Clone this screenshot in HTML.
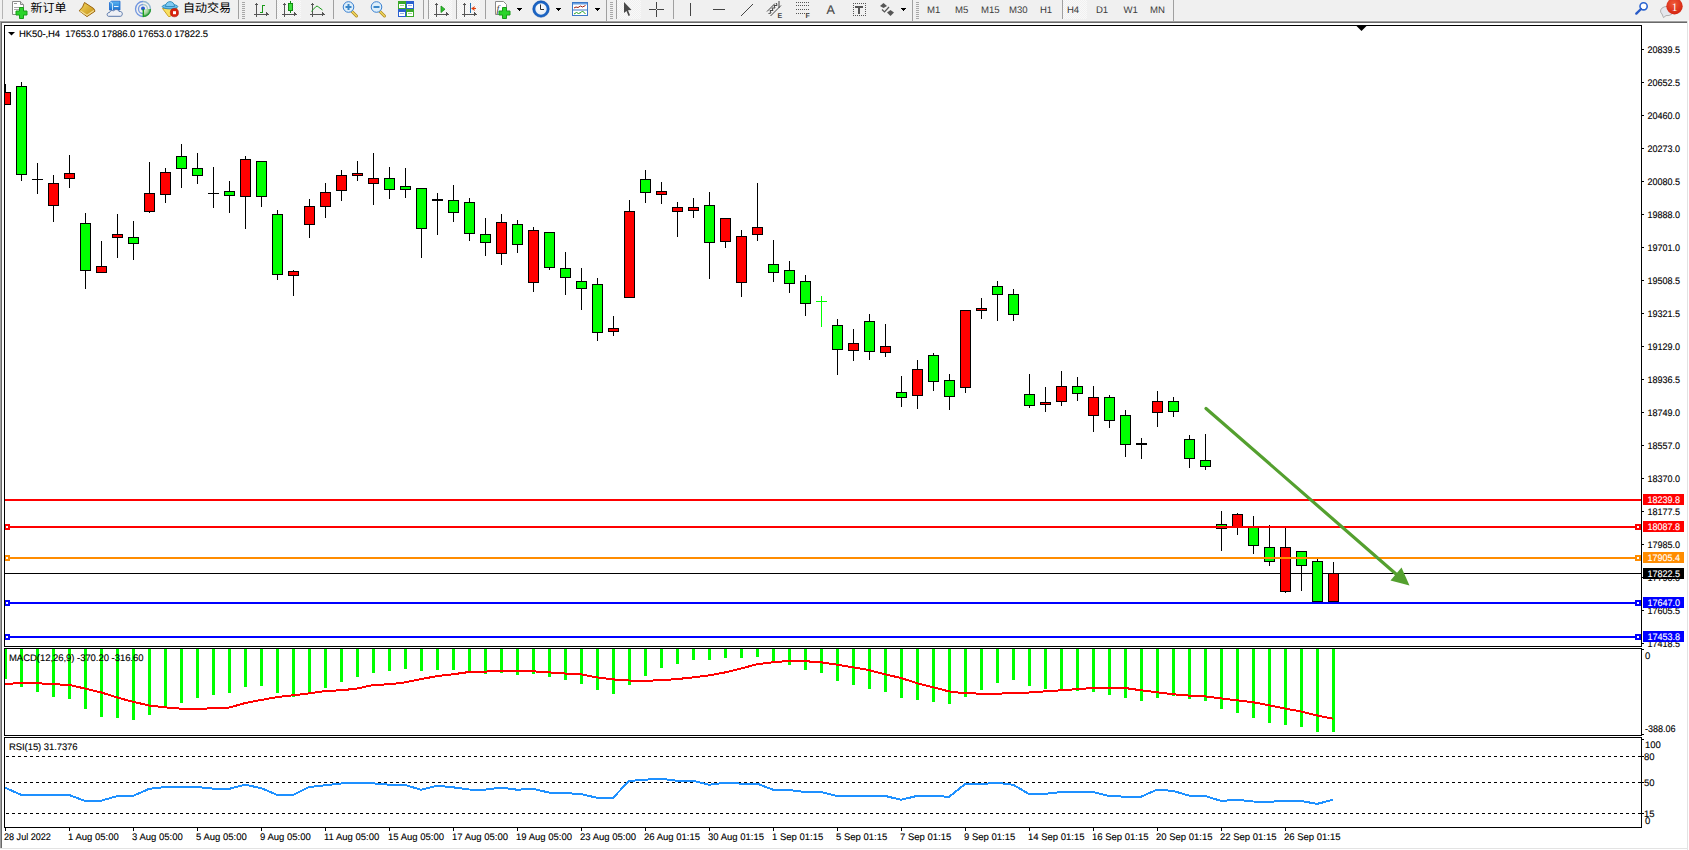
<!DOCTYPE html>
<html><head><meta charset="utf-8"><title>MT4 HK50 H4</title>
<style>
html,body{margin:0;padding:0;background:#fff;width:1689px;height:850px;overflow:hidden}
svg{display:block}
text{font-family:"Liberation Sans", "Noto Sans CJK SC", sans-serif;text-rendering:geometricPrecision;stroke-width:0.12px;paint-order:stroke}
</style></head><body>
<svg width="1689" height="850" viewBox="0 0 1689 850" shape-rendering="crispEdges">
<rect x="0" y="0" width="1689" height="21" fill="#f0f0f0"/>
<rect x="0" y="20" width="1689" height="1" fill="#f5f5f5"/>
<rect x="0" y="21" width="1687" height="1" fill="#a0a0a0"/>
<rect x="0" y="22" width="1687" height="1" fill="#696969"/>
<rect x="0" y="21" width="1" height="828" fill="#a0a0a0"/>
<rect x="1" y="22" width="1" height="827" fill="#696969"/>
<rect x="1687" y="21" width="1" height="829" fill="#e3e3e3"/>
<rect x="0" y="848" width="1688" height="1" fill="#e3e3e3"/>
<g id="chart">
<defs><clipPath id="cm"><rect x="5" y="26" width="1636" height="620"/></clipPath><clipPath id="cmacd"><rect x="5" y="649" width="1636" height="86"/></clipPath><clipPath id="crsi"><rect x="5" y="738" width="1636" height="89"/></clipPath></defs>
<g clip-path="url(#cm)">
<rect x="5" y="573" width="1636" height="1" fill="#000"/>
<rect x="5" y="84" width="1" height="21" fill="#000"/>
<rect x="0" y="92" width="11" height="13" fill="#000"/>
<rect x="1" y="93" width="9" height="11" fill="#ff0000"/>
<rect x="21" y="82" width="1" height="99" fill="#000"/>
<rect x="16" y="86" width="11" height="89" fill="#000"/>
<rect x="17" y="87" width="9" height="87" fill="#00ff00"/>
<rect x="37" y="163" width="1" height="31" fill="#000"/>
<rect x="32" y="179" width="11" height="1" fill="#000"/>
<rect x="53" y="175" width="1" height="47" fill="#000"/>
<rect x="48" y="183" width="11" height="23" fill="#000"/>
<rect x="49" y="184" width="9" height="21" fill="#ff0000"/>
<rect x="69" y="155" width="1" height="33" fill="#000"/>
<rect x="64" y="173" width="11" height="6" fill="#000"/>
<rect x="65" y="174" width="9" height="4" fill="#ff0000"/>
<rect x="85" y="213" width="1" height="76" fill="#000"/>
<rect x="80" y="223" width="11" height="48" fill="#000"/>
<rect x="81" y="224" width="9" height="46" fill="#00ff00"/>
<rect x="101" y="241" width="1" height="32" fill="#000"/>
<rect x="96" y="266" width="11" height="7" fill="#000"/>
<rect x="97" y="267" width="9" height="5" fill="#ff0000"/>
<rect x="117" y="214" width="1" height="44" fill="#000"/>
<rect x="112" y="234" width="11" height="4" fill="#000"/>
<rect x="113" y="235" width="9" height="2" fill="#ff0000"/>
<rect x="133" y="221" width="1" height="39" fill="#000"/>
<rect x="128" y="237" width="11" height="7" fill="#000"/>
<rect x="129" y="238" width="9" height="5" fill="#00ff00"/>
<rect x="149" y="162" width="1" height="51" fill="#000"/>
<rect x="144" y="193" width="11" height="19" fill="#000"/>
<rect x="145" y="194" width="9" height="17" fill="#ff0000"/>
<rect x="165" y="168" width="1" height="35" fill="#000"/>
<rect x="160" y="172" width="11" height="23" fill="#000"/>
<rect x="161" y="173" width="9" height="21" fill="#ff0000"/>
<rect x="181" y="144" width="1" height="44" fill="#000"/>
<rect x="176" y="156" width="11" height="13" fill="#000"/>
<rect x="177" y="157" width="9" height="11" fill="#00ff00"/>
<rect x="197" y="153" width="1" height="31" fill="#000"/>
<rect x="192" y="168" width="11" height="8" fill="#000"/>
<rect x="193" y="169" width="9" height="6" fill="#00ff00"/>
<rect x="213" y="167" width="1" height="41" fill="#000"/>
<rect x="208" y="193" width="11" height="1" fill="#000"/>
<rect x="229" y="181" width="1" height="32" fill="#000"/>
<rect x="224" y="191" width="11" height="5" fill="#000"/>
<rect x="225" y="192" width="9" height="3" fill="#00ff00"/>
<rect x="245" y="156" width="1" height="73" fill="#000"/>
<rect x="240" y="159" width="11" height="38" fill="#000"/>
<rect x="241" y="160" width="9" height="36" fill="#ff0000"/>
<rect x="261" y="161" width="1" height="46" fill="#000"/>
<rect x="256" y="161" width="11" height="36" fill="#000"/>
<rect x="257" y="162" width="9" height="34" fill="#00ff00"/>
<rect x="277" y="210" width="1" height="70" fill="#000"/>
<rect x="272" y="214" width="11" height="61" fill="#000"/>
<rect x="273" y="215" width="9" height="59" fill="#00ff00"/>
<rect x="293" y="270" width="1" height="26" fill="#000"/>
<rect x="288" y="271" width="11" height="5" fill="#000"/>
<rect x="289" y="272" width="9" height="3" fill="#ff0000"/>
<rect x="309" y="199" width="1" height="39" fill="#000"/>
<rect x="304" y="206" width="11" height="19" fill="#000"/>
<rect x="305" y="207" width="9" height="17" fill="#ff0000"/>
<rect x="325" y="183" width="1" height="35" fill="#000"/>
<rect x="320" y="192" width="11" height="15" fill="#000"/>
<rect x="321" y="193" width="9" height="13" fill="#ff0000"/>
<rect x="341" y="170" width="1" height="31" fill="#000"/>
<rect x="336" y="175" width="11" height="16" fill="#000"/>
<rect x="337" y="176" width="9" height="14" fill="#ff0000"/>
<rect x="357" y="161" width="1" height="20" fill="#000"/>
<rect x="352" y="173" width="11" height="3" fill="#000"/>
<rect x="353" y="174" width="9" height="1" fill="#ff0000"/>
<rect x="373" y="153" width="1" height="52" fill="#000"/>
<rect x="368" y="178" width="11" height="6" fill="#000"/>
<rect x="369" y="179" width="9" height="4" fill="#ff0000"/>
<rect x="389" y="167" width="1" height="32" fill="#000"/>
<rect x="384" y="178" width="11" height="12" fill="#000"/>
<rect x="385" y="179" width="9" height="10" fill="#00ff00"/>
<rect x="405" y="168" width="1" height="30" fill="#000"/>
<rect x="400" y="186" width="11" height="4" fill="#000"/>
<rect x="401" y="187" width="9" height="2" fill="#00ff00"/>
<rect x="421" y="188" width="1" height="70" fill="#000"/>
<rect x="416" y="188" width="11" height="41" fill="#000"/>
<rect x="417" y="189" width="9" height="39" fill="#00ff00"/>
<rect x="437" y="193" width="1" height="42" fill="#000"/>
<rect x="432" y="199" width="11" height="2" fill="#000"/>
<rect x="453" y="185" width="1" height="37" fill="#000"/>
<rect x="448" y="200" width="11" height="13" fill="#000"/>
<rect x="449" y="201" width="9" height="11" fill="#00ff00"/>
<rect x="469" y="198" width="1" height="43" fill="#000"/>
<rect x="464" y="202" width="11" height="32" fill="#000"/>
<rect x="465" y="203" width="9" height="30" fill="#00ff00"/>
<rect x="485" y="218" width="1" height="38" fill="#000"/>
<rect x="480" y="234" width="11" height="9" fill="#000"/>
<rect x="481" y="235" width="9" height="7" fill="#00ff00"/>
<rect x="501" y="214" width="1" height="51" fill="#000"/>
<rect x="496" y="222" width="11" height="32" fill="#000"/>
<rect x="497" y="223" width="9" height="30" fill="#ff0000"/>
<rect x="517" y="220" width="1" height="33" fill="#000"/>
<rect x="512" y="224" width="11" height="21" fill="#000"/>
<rect x="513" y="225" width="9" height="19" fill="#00ff00"/>
<rect x="533" y="227" width="1" height="65" fill="#000"/>
<rect x="528" y="230" width="11" height="53" fill="#000"/>
<rect x="529" y="231" width="9" height="51" fill="#ff0000"/>
<rect x="549" y="232" width="1" height="38" fill="#000"/>
<rect x="544" y="232" width="11" height="36" fill="#000"/>
<rect x="545" y="233" width="9" height="34" fill="#00ff00"/>
<rect x="565" y="252" width="1" height="43" fill="#000"/>
<rect x="560" y="268" width="11" height="10" fill="#000"/>
<rect x="561" y="269" width="9" height="8" fill="#00ff00"/>
<rect x="581" y="268" width="1" height="42" fill="#000"/>
<rect x="576" y="281" width="11" height="8" fill="#000"/>
<rect x="577" y="282" width="9" height="6" fill="#00ff00"/>
<rect x="597" y="278" width="1" height="63" fill="#000"/>
<rect x="592" y="284" width="11" height="49" fill="#000"/>
<rect x="593" y="285" width="9" height="47" fill="#00ff00"/>
<rect x="613" y="316" width="1" height="20" fill="#000"/>
<rect x="608" y="328" width="11" height="4" fill="#000"/>
<rect x="609" y="329" width="9" height="2" fill="#ff0000"/>
<rect x="629" y="200" width="1" height="98" fill="#000"/>
<rect x="624" y="211" width="11" height="87" fill="#000"/>
<rect x="625" y="212" width="9" height="85" fill="#ff0000"/>
<rect x="645" y="170" width="1" height="33" fill="#000"/>
<rect x="640" y="179" width="11" height="14" fill="#000"/>
<rect x="641" y="180" width="9" height="12" fill="#00ff00"/>
<rect x="661" y="182" width="1" height="22" fill="#000"/>
<rect x="656" y="191" width="11" height="4" fill="#000"/>
<rect x="657" y="192" width="9" height="2" fill="#ff0000"/>
<rect x="677" y="202" width="1" height="35" fill="#000"/>
<rect x="672" y="207" width="11" height="5" fill="#000"/>
<rect x="673" y="208" width="9" height="3" fill="#ff0000"/>
<rect x="693" y="198" width="1" height="20" fill="#000"/>
<rect x="688" y="207" width="11" height="4" fill="#000"/>
<rect x="689" y="208" width="9" height="2" fill="#ff0000"/>
<rect x="709" y="192" width="1" height="87" fill="#000"/>
<rect x="704" y="205" width="11" height="38" fill="#000"/>
<rect x="705" y="206" width="9" height="36" fill="#00ff00"/>
<rect x="725" y="218" width="1" height="30" fill="#000"/>
<rect x="720" y="218" width="11" height="24" fill="#000"/>
<rect x="721" y="219" width="9" height="22" fill="#ff0000"/>
<rect x="741" y="230" width="1" height="67" fill="#000"/>
<rect x="736" y="236" width="11" height="47" fill="#000"/>
<rect x="737" y="237" width="9" height="45" fill="#ff0000"/>
<rect x="757" y="183" width="1" height="58" fill="#000"/>
<rect x="752" y="227" width="11" height="8" fill="#000"/>
<rect x="753" y="228" width="9" height="6" fill="#ff0000"/>
<rect x="773" y="240" width="1" height="42" fill="#000"/>
<rect x="768" y="264" width="11" height="9" fill="#000"/>
<rect x="769" y="265" width="9" height="7" fill="#00ff00"/>
<rect x="789" y="261" width="1" height="32" fill="#000"/>
<rect x="784" y="270" width="11" height="14" fill="#000"/>
<rect x="785" y="271" width="9" height="12" fill="#00ff00"/>
<rect x="805" y="275" width="1" height="41" fill="#000"/>
<rect x="800" y="281" width="11" height="23" fill="#000"/>
<rect x="801" y="282" width="9" height="21" fill="#00ff00"/>
<rect x="821" y="296" width="1" height="31" fill="#00ff00"/>
<rect x="816" y="301" width="11" height="1" fill="#00ff00"/>
<rect x="837" y="319" width="1" height="56" fill="#000"/>
<rect x="832" y="325" width="11" height="25" fill="#000"/>
<rect x="833" y="326" width="9" height="23" fill="#00ff00"/>
<rect x="853" y="329" width="1" height="32" fill="#000"/>
<rect x="848" y="343" width="11" height="8" fill="#000"/>
<rect x="849" y="344" width="9" height="6" fill="#ff0000"/>
<rect x="869" y="314" width="1" height="46" fill="#000"/>
<rect x="864" y="321" width="11" height="31" fill="#000"/>
<rect x="865" y="322" width="9" height="29" fill="#00ff00"/>
<rect x="885" y="324" width="1" height="33" fill="#000"/>
<rect x="880" y="346" width="11" height="7" fill="#000"/>
<rect x="881" y="347" width="9" height="5" fill="#ff0000"/>
<rect x="901" y="376" width="1" height="31" fill="#000"/>
<rect x="896" y="392" width="11" height="6" fill="#000"/>
<rect x="897" y="393" width="9" height="4" fill="#00ff00"/>
<rect x="917" y="360" width="1" height="49" fill="#000"/>
<rect x="912" y="369" width="11" height="27" fill="#000"/>
<rect x="913" y="370" width="9" height="25" fill="#ff0000"/>
<rect x="933" y="353" width="1" height="38" fill="#000"/>
<rect x="928" y="355" width="11" height="27" fill="#000"/>
<rect x="929" y="356" width="9" height="25" fill="#00ff00"/>
<rect x="949" y="374" width="1" height="36" fill="#000"/>
<rect x="944" y="380" width="11" height="17" fill="#000"/>
<rect x="945" y="381" width="9" height="15" fill="#00ff00"/>
<rect x="965" y="310" width="1" height="83" fill="#000"/>
<rect x="960" y="310" width="11" height="78" fill="#000"/>
<rect x="961" y="311" width="9" height="76" fill="#ff0000"/>
<rect x="981" y="298" width="1" height="21" fill="#000"/>
<rect x="976" y="308" width="11" height="3" fill="#000"/>
<rect x="977" y="309" width="9" height="1" fill="#ff0000"/>
<rect x="997" y="281" width="1" height="40" fill="#000"/>
<rect x="992" y="286" width="11" height="9" fill="#000"/>
<rect x="993" y="287" width="9" height="7" fill="#00ff00"/>
<rect x="1013" y="289" width="1" height="32" fill="#000"/>
<rect x="1008" y="294" width="11" height="21" fill="#000"/>
<rect x="1009" y="295" width="9" height="19" fill="#00ff00"/>
<rect x="1029" y="374" width="1" height="34" fill="#000"/>
<rect x="1024" y="394" width="11" height="12" fill="#000"/>
<rect x="1025" y="395" width="9" height="10" fill="#00ff00"/>
<rect x="1045" y="387" width="1" height="25" fill="#000"/>
<rect x="1040" y="402" width="11" height="3" fill="#000"/>
<rect x="1041" y="403" width="9" height="1" fill="#ff0000"/>
<rect x="1061" y="371" width="1" height="35" fill="#000"/>
<rect x="1056" y="386" width="11" height="16" fill="#000"/>
<rect x="1057" y="387" width="9" height="14" fill="#ff0000"/>
<rect x="1077" y="377" width="1" height="24" fill="#000"/>
<rect x="1072" y="386" width="11" height="8" fill="#000"/>
<rect x="1073" y="387" width="9" height="6" fill="#00ff00"/>
<rect x="1093" y="386" width="1" height="46" fill="#000"/>
<rect x="1088" y="397" width="11" height="19" fill="#000"/>
<rect x="1089" y="398" width="9" height="17" fill="#ff0000"/>
<rect x="1109" y="395" width="1" height="33" fill="#000"/>
<rect x="1104" y="397" width="11" height="24" fill="#000"/>
<rect x="1105" y="398" width="9" height="22" fill="#00ff00"/>
<rect x="1125" y="410" width="1" height="47" fill="#000"/>
<rect x="1120" y="415" width="11" height="30" fill="#000"/>
<rect x="1121" y="416" width="9" height="28" fill="#00ff00"/>
<rect x="1141" y="438" width="1" height="21" fill="#000"/>
<rect x="1136" y="443" width="11" height="2" fill="#000"/>
<rect x="1157" y="391" width="1" height="36" fill="#000"/>
<rect x="1152" y="401" width="11" height="12" fill="#000"/>
<rect x="1153" y="402" width="9" height="10" fill="#ff0000"/>
<rect x="1173" y="397" width="1" height="20" fill="#000"/>
<rect x="1168" y="401" width="11" height="11" fill="#000"/>
<rect x="1169" y="402" width="9" height="9" fill="#00ff00"/>
<rect x="1189" y="435" width="1" height="33" fill="#000"/>
<rect x="1184" y="439" width="11" height="20" fill="#000"/>
<rect x="1185" y="440" width="9" height="18" fill="#00ff00"/>
<rect x="1205" y="434" width="1" height="36" fill="#000"/>
<rect x="1200" y="460" width="11" height="7" fill="#000"/>
<rect x="1201" y="461" width="9" height="5" fill="#00ff00"/>
<rect x="1221" y="511" width="1" height="40" fill="#000"/>
<rect x="1216" y="524" width="11" height="5" fill="#000"/>
<rect x="1217" y="525" width="9" height="3" fill="#00ff00"/>
<rect x="1237" y="513" width="1" height="22" fill="#000"/>
<rect x="1232" y="514" width="11" height="13" fill="#000"/>
<rect x="1233" y="515" width="9" height="11" fill="#ff0000"/>
<rect x="1253" y="516" width="1" height="38" fill="#000"/>
<rect x="1248" y="527" width="11" height="19" fill="#000"/>
<rect x="1249" y="528" width="9" height="17" fill="#00ff00"/>
<rect x="1269" y="525" width="1" height="41" fill="#000"/>
<rect x="1264" y="547" width="11" height="15" fill="#000"/>
<rect x="1265" y="548" width="9" height="13" fill="#00ff00"/>
<rect x="1285" y="528" width="1" height="65" fill="#000"/>
<rect x="1280" y="547" width="11" height="45" fill="#000"/>
<rect x="1281" y="548" width="9" height="43" fill="#ff0000"/>
<rect x="1301" y="551" width="1" height="40" fill="#000"/>
<rect x="1296" y="551" width="11" height="15" fill="#000"/>
<rect x="1297" y="552" width="9" height="13" fill="#00ff00"/>
<rect x="1317" y="558" width="1" height="44" fill="#000"/>
<rect x="1312" y="561" width="11" height="41" fill="#000"/>
<rect x="1313" y="562" width="9" height="39" fill="#00ff00"/>
<rect x="1333" y="562" width="1" height="40" fill="#000"/>
<rect x="1328" y="573" width="11" height="29" fill="#000"/>
<rect x="1329" y="574" width="9" height="27" fill="#ff0000"/>
<rect x="5" y="499" width="1636" height="2" fill="#ff0000"/>
<rect x="5" y="526" width="1636" height="2" fill="#ff0000"/>
<rect x="4" y="524" width="6" height="6" fill="#ff0000"/>
<rect x="6" y="526" width="2" height="2" fill="#fff"/>
<rect x="1635" y="524" width="6" height="6" fill="#ff0000"/>
<rect x="1637" y="526" width="2" height="2" fill="#fff"/>
<rect x="5" y="557" width="1636" height="2" fill="#ff8c00"/>
<rect x="4" y="555" width="6" height="6" fill="#ff8c00"/>
<rect x="6" y="557" width="2" height="2" fill="#fff"/>
<rect x="1635" y="555" width="6" height="6" fill="#ff8c00"/>
<rect x="1637" y="557" width="2" height="2" fill="#fff"/>
<rect x="5" y="602" width="1636" height="2" fill="#0000ff"/>
<rect x="4" y="600" width="6" height="6" fill="#0000ff"/>
<rect x="6" y="602" width="2" height="2" fill="#fff"/>
<rect x="1635" y="600" width="6" height="6" fill="#0000ff"/>
<rect x="1637" y="602" width="2" height="2" fill="#fff"/>
<rect x="5" y="636" width="1636" height="2" fill="#0000ff"/>
<rect x="4" y="634" width="6" height="6" fill="#0000ff"/>
<rect x="6" y="636" width="2" height="2" fill="#fff"/>
<rect x="1635" y="634" width="6" height="6" fill="#0000ff"/>
<rect x="1637" y="636" width="2" height="2" fill="#fff"/>
</g>
<g shape-rendering="geometricPrecision">
<line x1="1206" y1="408.5" x2="1396" y2="574" stroke="#54a02f" stroke-width="3.2" stroke-linecap="round"/>
<polygon points="1409.5,585.5 1390.5,580.5 1401.5,567.5" fill="#54a02f"/>
</g>
<rect x="4" y="25" width="1638" height="1" fill="#000"/>
<rect x="4" y="646" width="1638" height="1" fill="#000"/>
<rect x="4" y="25" width="1" height="622" fill="#000"/>
<rect x="1641" y="25" width="1" height="622" fill="#000"/>
<rect x="4" y="648" width="1638" height="1" fill="#000"/>
<rect x="4" y="735" width="1638" height="1" fill="#000"/>
<rect x="4" y="648" width="1" height="88" fill="#000"/>
<rect x="1641" y="648" width="1" height="88" fill="#000"/>
<rect x="4" y="737" width="1638" height="1" fill="#000"/>
<rect x="4" y="827" width="1638" height="1" fill="#000"/>
<rect x="4" y="737" width="1" height="91" fill="#000"/>
<rect x="1641" y="737" width="1" height="91" fill="#000"/>
<polygon points="1356.5,26 1366.5,26 1361.5,31" fill="#000" shape-rendering="geometricPrecision"/>
<polygon points="8,32 15,32 11.5,35.5" fill="#000" shape-rendering="geometricPrecision"/>
<text x="19" y="37" fill="#000" stroke="#000" font-size="9.5" xml:space="preserve" textLength="189" lengthAdjust="spacing">HK50-,H4  17653.0 17886.0 17653.0 17822.5</text>
<rect x="1642" y="49" width="2" height="1" fill="#000"/>
<text transform="translate(1647.5 53) scale(0.95 1)" fill="#000" stroke="#000" font-size="9.5">20839.5</text>
<rect x="1642" y="82" width="2" height="1" fill="#000"/>
<text transform="translate(1647.5 86) scale(0.95 1)" fill="#000" stroke="#000" font-size="9.5">20652.5</text>
<rect x="1642" y="115" width="2" height="1" fill="#000"/>
<text transform="translate(1647.5 119) scale(0.95 1)" fill="#000" stroke="#000" font-size="9.5">20460.0</text>
<rect x="1642" y="148" width="2" height="1" fill="#000"/>
<text transform="translate(1647.5 152) scale(0.95 1)" fill="#000" stroke="#000" font-size="9.5">20273.0</text>
<rect x="1642" y="181" width="2" height="1" fill="#000"/>
<text transform="translate(1647.5 185) scale(0.95 1)" fill="#000" stroke="#000" font-size="9.5">20080.5</text>
<rect x="1642" y="214" width="2" height="1" fill="#000"/>
<text transform="translate(1647.5 218) scale(0.95 1)" fill="#000" stroke="#000" font-size="9.5">19888.0</text>
<rect x="1642" y="247" width="2" height="1" fill="#000"/>
<text transform="translate(1647.5 251) scale(0.95 1)" fill="#000" stroke="#000" font-size="9.5">19701.0</text>
<rect x="1642" y="280" width="2" height="1" fill="#000"/>
<text transform="translate(1647.5 284) scale(0.95 1)" fill="#000" stroke="#000" font-size="9.5">19508.5</text>
<rect x="1642" y="313" width="2" height="1" fill="#000"/>
<text transform="translate(1647.5 317) scale(0.95 1)" fill="#000" stroke="#000" font-size="9.5">19321.5</text>
<rect x="1642" y="346" width="2" height="1" fill="#000"/>
<text transform="translate(1647.5 350) scale(0.95 1)" fill="#000" stroke="#000" font-size="9.5">19129.0</text>
<rect x="1642" y="379" width="2" height="1" fill="#000"/>
<text transform="translate(1647.5 383) scale(0.95 1)" fill="#000" stroke="#000" font-size="9.5">18936.5</text>
<rect x="1642" y="412" width="2" height="1" fill="#000"/>
<text transform="translate(1647.5 416) scale(0.95 1)" fill="#000" stroke="#000" font-size="9.5">18749.0</text>
<rect x="1642" y="445" width="2" height="1" fill="#000"/>
<text transform="translate(1647.5 449) scale(0.95 1)" fill="#000" stroke="#000" font-size="9.5">18557.0</text>
<rect x="1642" y="478" width="2" height="1" fill="#000"/>
<text transform="translate(1647.5 482) scale(0.95 1)" fill="#000" stroke="#000" font-size="9.5">18370.0</text>
<rect x="1642" y="511" width="2" height="1" fill="#000"/>
<text transform="translate(1647.5 515) scale(0.95 1)" fill="#000" stroke="#000" font-size="9.5">18177.5</text>
<rect x="1642" y="544" width="2" height="1" fill="#000"/>
<text transform="translate(1647.5 548) scale(0.95 1)" fill="#000" stroke="#000" font-size="9.5">17985.0</text>
<rect x="1642" y="577" width="2" height="1" fill="#000"/>
<text transform="translate(1647.5 581) scale(0.95 1)" fill="#000" stroke="#000" font-size="9.5">17790.0</text>
<rect x="1642" y="610" width="2" height="1" fill="#000"/>
<text transform="translate(1647.5 614) scale(0.95 1)" fill="#000" stroke="#000" font-size="9.5">17605.5</text>
<rect x="1642" y="643" width="2" height="1" fill="#000"/>
<text transform="translate(1647.5 647) scale(0.95 1)" fill="#000" stroke="#000" font-size="9.5">17418.5</text>
<rect x="1643" y="494" width="41" height="11" fill="#ff0000"/>
<text transform="translate(1647.5 503) scale(0.95 1)" fill="#fff" stroke="#fff" font-size="9.5">18239.8</text>
<rect x="1643" y="521" width="41" height="11" fill="#ff0000"/>
<text transform="translate(1647.5 530) scale(0.95 1)" fill="#fff" stroke="#fff" font-size="9.5">18087.8</text>
<rect x="1643" y="552" width="41" height="11" fill="#ff8c00"/>
<text transform="translate(1647.5 561) scale(0.95 1)" fill="#fff" stroke="#fff" font-size="9.5">17905.4</text>
<rect x="1643" y="568" width="41" height="11" fill="#000000"/>
<text transform="translate(1647.5 577) scale(0.95 1)" fill="#fff" stroke="#fff" font-size="9.5">17822.5</text>
<rect x="1643" y="597" width="41" height="11" fill="#0000ff"/>
<text transform="translate(1647.5 606) scale(0.95 1)" fill="#fff" stroke="#fff" font-size="9.5">17647.0</text>
<rect x="1643" y="631" width="41" height="11" fill="#0000ff"/>
<text transform="translate(1647.5 640) scale(0.95 1)" fill="#fff" stroke="#fff" font-size="9.5">17453.8</text>
<g clip-path="url(#cmacd)">
<rect x="4" y="649" width="3" height="30" fill="#00ff00"/>
<rect x="20" y="649" width="3" height="38" fill="#00ff00"/>
<rect x="36" y="649" width="3" height="43" fill="#00ff00"/>
<rect x="52" y="649" width="3" height="48" fill="#00ff00"/>
<rect x="68" y="649" width="3" height="50" fill="#00ff00"/>
<rect x="84" y="649" width="3" height="60" fill="#00ff00"/>
<rect x="100" y="649" width="3" height="68" fill="#00ff00"/>
<rect x="116" y="649" width="3" height="69" fill="#00ff00"/>
<rect x="132" y="649" width="3" height="71" fill="#00ff00"/>
<rect x="148" y="649" width="3" height="66" fill="#00ff00"/>
<rect x="164" y="649" width="3" height="59" fill="#00ff00"/>
<rect x="180" y="649" width="3" height="54" fill="#00ff00"/>
<rect x="196" y="649" width="3" height="49" fill="#00ff00"/>
<rect x="212" y="649" width="3" height="46" fill="#00ff00"/>
<rect x="228" y="649" width="3" height="44" fill="#00ff00"/>
<rect x="244" y="649" width="3" height="38" fill="#00ff00"/>
<rect x="260" y="649" width="3" height="37" fill="#00ff00"/>
<rect x="276" y="649" width="3" height="44" fill="#00ff00"/>
<rect x="292" y="649" width="3" height="48" fill="#00ff00"/>
<rect x="308" y="649" width="3" height="44" fill="#00ff00"/>
<rect x="324" y="649" width="3" height="39" fill="#00ff00"/>
<rect x="340" y="649" width="3" height="33" fill="#00ff00"/>
<rect x="356" y="649" width="3" height="28" fill="#00ff00"/>
<rect x="372" y="649" width="3" height="24" fill="#00ff00"/>
<rect x="388" y="649" width="3" height="22" fill="#00ff00"/>
<rect x="404" y="649" width="3" height="20" fill="#00ff00"/>
<rect x="420" y="649" width="3" height="22" fill="#00ff00"/>
<rect x="436" y="649" width="3" height="21" fill="#00ff00"/>
<rect x="452" y="649" width="3" height="21" fill="#00ff00"/>
<rect x="468" y="649" width="3" height="23" fill="#00ff00"/>
<rect x="484" y="649" width="3" height="25" fill="#00ff00"/>
<rect x="500" y="649" width="3" height="24" fill="#00ff00"/>
<rect x="516" y="649" width="3" height="26" fill="#00ff00"/>
<rect x="532" y="649" width="3" height="25" fill="#00ff00"/>
<rect x="548" y="649" width="3" height="28" fill="#00ff00"/>
<rect x="564" y="649" width="3" height="31" fill="#00ff00"/>
<rect x="580" y="649" width="3" height="35" fill="#00ff00"/>
<rect x="596" y="649" width="3" height="41" fill="#00ff00"/>
<rect x="612" y="649" width="3" height="45" fill="#00ff00"/>
<rect x="628" y="649" width="3" height="36" fill="#00ff00"/>
<rect x="644" y="649" width="3" height="27" fill="#00ff00"/>
<rect x="660" y="649" width="3" height="19" fill="#00ff00"/>
<rect x="676" y="649" width="3" height="15" fill="#00ff00"/>
<rect x="692" y="649" width="3" height="11" fill="#00ff00"/>
<rect x="708" y="649" width="3" height="11" fill="#00ff00"/>
<rect x="724" y="649" width="3" height="9" fill="#00ff00"/>
<rect x="740" y="649" width="3" height="9" fill="#00ff00"/>
<rect x="756" y="649" width="3" height="8" fill="#00ff00"/>
<rect x="772" y="649" width="3" height="12" fill="#00ff00"/>
<rect x="788" y="649" width="3" height="16" fill="#00ff00"/>
<rect x="804" y="649" width="3" height="21" fill="#00ff00"/>
<rect x="820" y="649" width="3" height="24" fill="#00ff00"/>
<rect x="836" y="649" width="3" height="32" fill="#00ff00"/>
<rect x="852" y="649" width="3" height="36" fill="#00ff00"/>
<rect x="868" y="649" width="3" height="40" fill="#00ff00"/>
<rect x="884" y="649" width="3" height="43" fill="#00ff00"/>
<rect x="900" y="649" width="3" height="49" fill="#00ff00"/>
<rect x="916" y="649" width="3" height="51" fill="#00ff00"/>
<rect x="932" y="649" width="3" height="53" fill="#00ff00"/>
<rect x="948" y="649" width="3" height="55" fill="#00ff00"/>
<rect x="964" y="649" width="3" height="48" fill="#00ff00"/>
<rect x="980" y="649" width="3" height="41" fill="#00ff00"/>
<rect x="996" y="649" width="3" height="34" fill="#00ff00"/>
<rect x="1012" y="649" width="3" height="31" fill="#00ff00"/>
<rect x="1028" y="649" width="3" height="37" fill="#00ff00"/>
<rect x="1044" y="649" width="3" height="40" fill="#00ff00"/>
<rect x="1060" y="649" width="3" height="41" fill="#00ff00"/>
<rect x="1076" y="649" width="3" height="42" fill="#00ff00"/>
<rect x="1092" y="649" width="3" height="43" fill="#00ff00"/>
<rect x="1108" y="649" width="3" height="46" fill="#00ff00"/>
<rect x="1124" y="649" width="3" height="49" fill="#00ff00"/>
<rect x="1140" y="649" width="3" height="52" fill="#00ff00"/>
<rect x="1156" y="649" width="3" height="49" fill="#00ff00"/>
<rect x="1172" y="649" width="3" height="47" fill="#00ff00"/>
<rect x="1188" y="649" width="3" height="50" fill="#00ff00"/>
<rect x="1204" y="649" width="3" height="52" fill="#00ff00"/>
<rect x="1220" y="649" width="3" height="60" fill="#00ff00"/>
<rect x="1236" y="649" width="3" height="64" fill="#00ff00"/>
<rect x="1252" y="649" width="3" height="69" fill="#00ff00"/>
<rect x="1268" y="649" width="3" height="74" fill="#00ff00"/>
<rect x="1284" y="649" width="3" height="76" fill="#00ff00"/>
<rect x="1300" y="649" width="3" height="78" fill="#00ff00"/>
<rect x="1316" y="649" width="3" height="83" fill="#00ff00"/>
<rect x="1332" y="649" width="3" height="83" fill="#00ff00"/>
<polyline points="5,684.1 21,682.9 37,683.2 53,684.2 69,684.9 85,688.5 101,692.4 117,697.4 133,701.8 149,705.5 165,707.3 181,708.7 197,708.7 213,708.4 229,707.6 245,703.1 261,700.0 277,697.1 293,695.3 309,693.4 325,691.0 341,690.3 357,688.6 373,685.0 389,684.3 405,682.4 421,679.1 437,676.1 453,674.3 469,672.0 485,671.6 501,670.9 517,670.9 533,671.3 549,672.4 565,673.5 581,674.3 597,677.4 613,679.4 629,680.5 645,680.8 661,680.2 677,679.1 693,677.4 709,675.4 725,672.4 741,668.5 757,664.2 773,662.3 789,660.9 805,661.2 821,662.3 837,664.6 853,667.3 869,670.1 885,674.3 901,678.0 917,683.2 933,687.2 949,691.4 965,693.3 981,693.6 997,693.6 1013,693.3 1029,692.5 1045,691.4 1061,690.3 1077,689.1 1093,688.0 1109,687.7 1125,688.0 1141,690.3 1157,692.2 1173,694.2 1189,695.6 1205,696.4 1221,698.4 1237,700.3 1253,702.2 1269,705.3 1285,708.5 1301,711.5 1317,715.4 1333,718.7" fill="none" stroke="#ff0000" stroke-width="2"/>
</g>
<text x="9" y="661" fill="#000" stroke="#000" font-size="9.5" textLength="134.5" lengthAdjust="spacing">MACD(12,26,9) -370.20 -316.60</text>
<rect x="1642" y="649" width="2" height="1" fill="#000"/>
<text x="1645" y="659" fill="#000" stroke="#000" font-size="9.5">0</text>
<rect x="1642" y="734" width="2" height="1" fill="#000"/>
<text transform="translate(1645 732) scale(0.95 1)" fill="#000" stroke="#000" font-size="9.5">-388.06</text>
<g clip-path="url(#crsi)">
<line x1="6" y1="756.5" x2="1641" y2="756.5" stroke="#000" stroke-width="1" stroke-dasharray="3,3"/>
<line x1="6" y1="782.5" x2="1641" y2="782.5" stroke="#000" stroke-width="1" stroke-dasharray="3,3"/>
<line x1="6" y1="813.5" x2="1641" y2="813.5" stroke="#000" stroke-width="1" stroke-dasharray="3,3"/>
<polyline points="5,787.7 21,794.8 37,795.0 53,795.0 69,795.0 85,800.9 101,800.7 117,796.2 133,795.9 149,788.9 165,787.0 181,786.6 197,787.0 213,788.6 229,788.9 245,784.7 261,788.1 277,794.8 293,795.0 309,787.0 325,785.3 341,783.5 357,782.8 373,783.3 389,784.7 405,785.0 421,789.7 437,785.8 453,787.3 469,789.5 485,789.7 501,787.5 517,789.7 533,788.9 549,792.5 565,793.1 581,794.0 597,797.8 613,797.8 629,781.0 645,779.7 661,778.8 677,780.8 693,780.8 709,784.7 725,782.8 741,783.6 757,783.6 773,789.7 789,790.0 805,792.0 821,792.0 837,795.9 853,795.9 869,795.9 885,795.9 901,799.8 917,795.9 933,795.9 949,796.8 965,784.2 981,784.0 997,782.8 1013,784.7 1029,794.0 1045,793.9 1061,792.0 1077,792.0 1093,792.0 1109,795.9 1125,796.7 1141,796.7 1157,789.7 1173,790.9 1189,795.6 1205,795.9 1221,800.9 1237,799.8 1253,801.5 1269,801.8 1285,800.9 1301,800.9 1317,803.9 1333,799.8" fill="none" stroke="#1e90ff" stroke-width="2"/>
</g>
<text x="9" y="750" fill="#000" stroke="#000" font-size="9.5" textLength="68.6" lengthAdjust="spacing">RSI(15) 31.7376</text>
<text x="1645" y="748" fill="#000" stroke="#000" font-size="9.5">100</text>
<text x="1644" y="760" fill="#000" stroke="#000" font-size="9.5">80</text>
<text x="1644" y="786" fill="#000" stroke="#000" font-size="9.5">50</text>
<text x="1644" y="817" fill="#000" stroke="#000" font-size="9.5">15</text>
<text x="1645" y="824" fill="#000" stroke="#000" font-size="9.5">0</text>
<rect x="1642" y="739" width="2" height="1" fill="#000"/>
<rect x="1642" y="756" width="2" height="1" fill="#000"/>
<rect x="1642" y="782" width="2" height="1" fill="#000"/>
<rect x="1642" y="813" width="2" height="1" fill="#000"/>
<rect x="5" y="828" width="1" height="3" fill="#000"/>
<text transform="translate(4 840) scale(0.955 1)" fill="#000" stroke="#000" font-size="9.5">28 Jul 2022</text>
<rect x="69" y="828" width="1" height="3" fill="#000"/>
<text x="68" y="840" fill="#000" stroke="#000" font-size="9.5">1 Aug 05:00</text>
<rect x="133" y="828" width="1" height="3" fill="#000"/>
<text x="132" y="840" fill="#000" stroke="#000" font-size="9.5">3 Aug 05:00</text>
<rect x="197" y="828" width="1" height="3" fill="#000"/>
<text x="196" y="840" fill="#000" stroke="#000" font-size="9.5">5 Aug 05:00</text>
<rect x="261" y="828" width="1" height="3" fill="#000"/>
<text x="260" y="840" fill="#000" stroke="#000" font-size="9.5">9 Aug 05:00</text>
<rect x="325" y="828" width="1" height="3" fill="#000"/>
<text x="324" y="840" fill="#000" stroke="#000" font-size="9.5">11 Aug 05:00</text>
<rect x="389" y="828" width="1" height="3" fill="#000"/>
<text x="388" y="840" fill="#000" stroke="#000" font-size="9.5">15 Aug 05:00</text>
<rect x="453" y="828" width="1" height="3" fill="#000"/>
<text x="452" y="840" fill="#000" stroke="#000" font-size="9.5">17 Aug 05:00</text>
<rect x="517" y="828" width="1" height="3" fill="#000"/>
<text x="516" y="840" fill="#000" stroke="#000" font-size="9.5">19 Aug 05:00</text>
<rect x="581" y="828" width="1" height="3" fill="#000"/>
<text x="580" y="840" fill="#000" stroke="#000" font-size="9.5">23 Aug 05:00</text>
<rect x="645" y="828" width="1" height="3" fill="#000"/>
<text x="644" y="840" fill="#000" stroke="#000" font-size="9.5">26 Aug 01:15</text>
<rect x="709" y="828" width="1" height="3" fill="#000"/>
<text x="708" y="840" fill="#000" stroke="#000" font-size="9.5">30 Aug 01:15</text>
<rect x="773" y="828" width="1" height="3" fill="#000"/>
<text x="772" y="840" fill="#000" stroke="#000" font-size="9.5">1 Sep 01:15</text>
<rect x="837" y="828" width="1" height="3" fill="#000"/>
<text x="836" y="840" fill="#000" stroke="#000" font-size="9.5">5 Sep 01:15</text>
<rect x="901" y="828" width="1" height="3" fill="#000"/>
<text x="900" y="840" fill="#000" stroke="#000" font-size="9.5">7 Sep 01:15</text>
<rect x="965" y="828" width="1" height="3" fill="#000"/>
<text x="964" y="840" fill="#000" stroke="#000" font-size="9.5">9 Sep 01:15</text>
<rect x="1029" y="828" width="1" height="3" fill="#000"/>
<text x="1028" y="840" fill="#000" stroke="#000" font-size="9.5">14 Sep 01:15</text>
<rect x="1093" y="828" width="1" height="3" fill="#000"/>
<text x="1092" y="840" fill="#000" stroke="#000" font-size="9.5">16 Sep 01:15</text>
<rect x="1157" y="828" width="1" height="3" fill="#000"/>
<text x="1156" y="840" fill="#000" stroke="#000" font-size="9.5">20 Sep 01:15</text>
<rect x="1221" y="828" width="1" height="3" fill="#000"/>
<text x="1220" y="840" fill="#000" stroke="#000" font-size="9.5">22 Sep 01:15</text>
<rect x="1285" y="828" width="1" height="3" fill="#000"/>
<text x="1284" y="840" fill="#000" stroke="#000" font-size="9.5">26 Sep 01:15</text>
</g>
<defs><pattern id="chk" width="2" height="2" patternUnits="userSpaceOnUse"><rect width="2" height="2" fill="#f9f9f9"/><rect width="1" height="1" fill="#f0f0f0"/><rect x="1" y="1" width="1" height="1" fill="#f0f0f0"/></pattern><radialGradient id="gclk" cx="0.45" cy="0.4" r="0.6"><stop offset="0" stop-color="#ffffff"/><stop offset="1" stop-color="#dfe8f2"/></radialGradient><linearGradient id="ggold" x1="0" y1="0" x2="1" y2="1"><stop offset="0" stop-color="#f6d860"/><stop offset="1" stop-color="#c08a10"/></linearGradient><linearGradient id="gblue" x1="0" y1="0" x2="0" y2="1"><stop offset="0" stop-color="#5ab4f0"/><stop offset="1" stop-color="#1c74d0"/></linearGradient><radialGradient id="gbadge" cx="0.45" cy="0.35" r="0.65"><stop offset="0" stop-color="#f05a3a"/><stop offset="1" stop-color="#d42410"/></radialGradient><radialGradient id="gsig" cx="0" cy="0" r="1" gradientUnits="objectBoundingBox"><stop offset="0" stop-color="#f4faf0"/><stop offset="0.6" stop-color="#a8d8a0"/><stop offset="1" stop-color="#3aa04a"/></radialGradient></defs>
<g shape-rendering="geometricPrecision">
<rect x="2" y="0" width="1" height="19" fill="#b4b4b4"/>
<path d="M12.5,1.5 h8 l3,3 v10 h-11 z" fill="#fff" stroke="#8a8a8a" stroke-width="1"/>
<path d="M20.5,1.5 v3 h3" fill="#ddd" stroke="#8a8a8a" stroke-width="1"/>
<rect x="14" y="3" width="3" height="1" fill="#999"/>
<rect x="14" y="7" width="6" height="1" fill="#aaa"/>
<rect x="14" y="9" width="6" height="1" fill="#aaa"/>
<path d="M19.5,7.5 h4 v3.5 h3.5 v4 h-3.5 v3.5 h-4 v-3.5 h-3.5 v-4 h3.5 z" fill="#2ad42a" stroke="#1a9a1a" stroke-width="1"/>
<text x="30.5" y="11.8" font-size="12" fill="#000" font-family="'Noto Sans CJK SC', sans-serif">新订单</text>
<path d="M84.5,2.5 L93.8,8.6 L95,11.2 L87,16.6 L79.2,10.8 L82.6,7 Z" fill="url(#ggold)" stroke="#9a6410" stroke-width="1"/>
<path d="M80.5,11 L87,15.3 L94,10.6" fill="none" stroke="#f2dc90" stroke-width="1.2"/>
<path d="M109.5,2.5 L111.5,1.2 L120,1.2 L120,10 L109.5,10 Z" fill="url(#gblue)" stroke="#1a6ad0" stroke-width="0.8"/>
<path d="M110.2,2 L112.5,3.5 L112.5,10" fill="none" stroke="#e8f6ff" stroke-width="0.8"/>
<rect x="114" y="6" width="4.5" height="1" fill="#e8f4ff"/>
<path d="M108.5,16.3 C106.5,16 106.5,12.5 109.5,12.5 C110,10.5 112,10 113.5,11 C114.5,9 118.5,9 119,11.5 C121.5,11 123,13 122,15 C121.8,16 121,16.3 120,16.3 Z" fill="#eef0f6" stroke="#4a6aa0" stroke-width="0.9"/>
<path d="M143,9 L151,9 A8,8 0 0 1 143,17 Z" fill="url(#gsig)"/>
<path d="M143,1.5 A7.5,7.5 0 0 0 143,16.5" fill="none" stroke="#5a86dc" stroke-width="1.3" opacity="0.85"/>
<path d="M143,1.5 A7.5,7.5 0 0 1 150.5,9" fill="none" stroke="#7aa8c8" stroke-width="1.3" opacity="0.8"/>
<path d="M143,4.5 A4.5,4.5 0 0 0 143,13.5" fill="none" stroke="#5a86dc" stroke-width="1.3" opacity="0.8"/>
<path d="M143,4.5 A4.5,4.5 0 0 1 147.5,9" fill="none" stroke="#8ab8b8" stroke-width="1.3" opacity="0.7"/>
<path d="M150.5,9 A7.5,7.5 0 0 1 143,16.5" fill="none" stroke="#2a9a3a" stroke-width="1.3"/>
<circle cx="143" cy="8.6" r="2" fill="#2a5ad0"/>
<rect x="142.6" y="9" width="1.4" height="7.8" fill="#1aa01a"/>
<path d="M162.5,8.5 L177,8.5 L176,11 L170,16.5 L168.5,16.5 Z" fill="#f8e060" stroke="#c89a18" stroke-width="0.9"/>
<ellipse cx="170" cy="6.6" rx="7.8" ry="2.3" fill="#68bcec" stroke="#2a88b8" stroke-width="0.9"/>
<path d="M165.5,6.5 C165.5,0 174.5,0 174.5,6.5 Z" fill="#80caf2" stroke="#2a88b8" stroke-width="0.9"/>
<circle cx="174.4" cy="12.7" r="4.1" fill="#d8220e" stroke="#b01808" stroke-width="0.6"/>
<rect x="173" y="11.2" width="3" height="3" fill="#fff"/>
<text x="183" y="11.8" font-size="12" fill="#000" font-family="'Noto Sans CJK SC', sans-serif">自动交易</text>
</g>
<rect x="238" y="0" width="1" height="19" fill="#a0a0a0"/>
<rect x="242" y="2" width="3" height="1" fill="#a8a8a8"/>
<rect x="242" y="4" width="3" height="1" fill="#a8a8a8"/>
<rect x="242" y="6" width="3" height="1" fill="#a8a8a8"/>
<rect x="242" y="8" width="3" height="1" fill="#a8a8a8"/>
<rect x="242" y="10" width="3" height="1" fill="#a8a8a8"/>
<rect x="242" y="12" width="3" height="1" fill="#a8a8a8"/>
<rect x="242" y="14" width="3" height="1" fill="#a8a8a8"/>
<rect x="242" y="16" width="3" height="1" fill="#a8a8a8"/>
<rect x="242" y="18" width="3" height="1" fill="#a8a8a8"/>
<rect x="256" y="4" width="1" height="13" fill="#555"/>
<polygon points="254.5,5 258.5,5 256.5,2.5" fill="#555"/>
<rect x="254" y="14" width="13" height="1" fill="#555"/>
<polygon points="266,12 266,16 268.5,14.5" fill="#555"/>
<rect x="262" y="5" width="1" height="8" fill="#1a9a1a"/>
<rect x="263" y="5" width="2" height="1" fill="#1a9a1a"/>
<rect x="260" y="12" width="2" height="1" fill="#1a9a1a"/>
<rect x="276" y="0" width="1" height="19" fill="#a0a0a0"/>
<rect x="277" y="0" width="24" height="19" fill="url(#chk)"/>
<rect x="284" y="4" width="1" height="13" fill="#555"/>
<polygon points="282.5,5 286.5,5 284.5,2.5" fill="#555"/>
<rect x="282" y="14" width="13" height="1" fill="#555"/>
<polygon points="294,12 294,16 296.5,14.5" fill="#555"/>
<rect x="290" y="1" width="1" height="12" fill="#138a13"/>
<rect x="288.5" y="3.5" width="4" height="7" fill="#3ee03e" stroke="#138a13" stroke-width="1" shape-rendering="geometricPrecision"/>
<rect x="312" y="4" width="1" height="13" fill="#555"/>
<polygon points="310.5,5 314.5,5 312.5,2.5" fill="#555"/>
<rect x="310" y="14" width="13" height="1" fill="#555"/>
<polygon points="322,12 322,16 324.5,14.5" fill="#555"/>
<path d="M311.5,11.5 Q313,9.5 316,6.5 Q317,5.5 318.5,7 L322.5,10" fill="none" stroke="#1a9a1a" stroke-width="1" shape-rendering="geometricPrecision"/>
<rect x="333" y="0" width="1" height="19" fill="#a0a0a0"/>
<g shape-rendering="geometricPrecision">
<path d="M351.5,11 L356.5,16" stroke="#b08a20" stroke-width="3" stroke-linecap="round"/>
<path d="M351.5,11 L356.5,16" stroke="#f0d860" stroke-width="1.4" stroke-linecap="round"/>
<circle cx="348.5" cy="7" r="5.3" fill="#dceefa" stroke="#3a80d0" stroke-width="1"/>
<rect x="345.5" y="6" width="6" height="2" fill="#3a86c8"/>
<rect x="347.5" y="4" width="2" height="6" fill="#3a86c8"/>
<path d="M379.5,11 L384.5,16" stroke="#b08a20" stroke-width="3" stroke-linecap="round"/>
<path d="M379.5,11 L384.5,16" stroke="#f0d860" stroke-width="1.4" stroke-linecap="round"/>
<circle cx="376.5" cy="7" r="5.3" fill="#dceefa" stroke="#3a80d0" stroke-width="1"/>
<rect x="373.5" y="6" width="6" height="2" fill="#3a86c8"/>
<rect x="398" y="1" width="8" height="8" fill="#3aa82a"/>
<rect x="399" y="4" width="6" height="4" fill="#ffffff"/>
<rect x="400" y="5" width="4" height="1" fill="#3aa82a" opacity="0.5"/>
<rect x="406" y="1" width="8" height="8" fill="#2a60d0"/>
<rect x="407" y="4" width="6" height="4" fill="#ffffff"/>
<rect x="408" y="5" width="4" height="1" fill="#2a60d0" opacity="0.5"/>
<rect x="398" y="9" width="8" height="8" fill="#2a60d0"/>
<rect x="399" y="12" width="6" height="4" fill="#ffffff"/>
<rect x="400" y="13" width="4" height="1" fill="#2a60d0" opacity="0.5"/>
<rect x="406" y="9" width="8" height="8" fill="#3aa82a"/>
<rect x="407" y="12" width="6" height="4" fill="#ffffff"/>
<rect x="408" y="13" width="4" height="1" fill="#3aa82a" opacity="0.5"/>
</g>
<rect x="423" y="0" width="1" height="19" fill="#a0a0a0"/>
<rect x="428" y="0" width="1" height="19" fill="#a0a0a0"/>
<rect x="429" y="0" width="23" height="19" fill="url(#chk)"/>
<rect x="436" y="4" width="1" height="13" fill="#555"/>
<polygon points="434.5,5 438.5,5 436.5,2.5" fill="#555"/>
<rect x="434" y="14" width="13" height="1" fill="#555"/>
<polygon points="446,12 446,16 448.5,14.5" fill="#555"/>
<polygon points="441,6 441,12.5 445,9.2" fill="#2cc02c" stroke="#1a8a1a" stroke-width="0.8" shape-rendering="geometricPrecision"/>
<rect x="456" y="0" width="1" height="19" fill="#a0a0a0"/>
<rect x="457" y="0" width="23" height="19" fill="url(#chk)"/>
<rect x="464" y="4" width="1" height="13" fill="#555"/>
<polygon points="462.5,5 466.5,5 464.5,2.5" fill="#555"/>
<rect x="462" y="14" width="13" height="1" fill="#555"/>
<polygon points="474,12 474,16 476.5,14.5" fill="#555"/>
<rect x="470" y="3" width="1" height="10" fill="#2070b0"/>
<polygon points="471,8.5 475,6 474,8.5 475,11" fill="#e04010" shape-rendering="geometricPrecision"/>
<rect x="472" y="8" width="4" height="1" fill="#e04010"/>
<rect x="485" y="0" width="1" height="19" fill="#a0a0a0"/>
<g shape-rendering="geometricPrecision">
<path d="M495.5,1.5 h8 l3,3 v10 h-11 z" fill="#fff" stroke="#8a8a8a" stroke-width="1"/>
<text x="496.5" y="12" font-size="10" font-style="italic" fill="#333" style="font-family:'Liberation Serif', serif">f</text>
<path d="M502.5,7.5 h4 v3.5 h3.5 v4 h-3.5 v3.5 h-4 v-3.5 h-3.5 v-4 h3.5 z" fill="#2ad42a" stroke="#1a9a1a" stroke-width="1"/>
</g>
<polygon points="517,8 522,8 519.5,11" fill="#000"/>
<g shape-rendering="geometricPrecision">
<circle cx="541" cy="9" r="7" fill="url(#gclk)" stroke="#1a64c4" stroke-width="2.6"/>
<circle cx="541" cy="9" r="8.2" fill="none" stroke="#0d4ea8" stroke-width="0.6"/>
<path d="M540.5,4.5 V9.5 H544" fill="none" stroke="#333" stroke-width="1"/>
</g>
<polygon points="556,8 561,8 558.5,11" fill="#000"/>
<g shape-rendering="geometricPrecision">
<rect x="572.5" y="2.5" width="15" height="13" fill="#fff" stroke="#3a78c8" stroke-width="1"/>
<rect x="573" y="3" width="14" height="1.5" fill="#6aa0e0"/>
<rect x="573" y="9.5" width="14" height="1" fill="#3a78c8"/>
<path d="M574,8 L576,7 L578,7.5 L580.5,6 L582.5,7 L585.5,5.5" fill="none" stroke="#a02010" stroke-width="1"/>
<path d="M574,14 L576.5,12.5 L578.5,13.5 L581,12.5 L582.5,11 L585.5,14" fill="none" stroke="#20a020" stroke-width="1"/>
</g>
<polygon points="595,8 600,8 597.5,11" fill="#000"/>
<rect x="606" y="0" width="1" height="21" fill="#a0a0a0"/>
<rect x="610" y="2" width="3" height="1" fill="#a8a8a8"/>
<rect x="610" y="4" width="3" height="1" fill="#a8a8a8"/>
<rect x="610" y="6" width="3" height="1" fill="#a8a8a8"/>
<rect x="610" y="8" width="3" height="1" fill="#a8a8a8"/>
<rect x="610" y="10" width="3" height="1" fill="#a8a8a8"/>
<rect x="610" y="12" width="3" height="1" fill="#a8a8a8"/>
<rect x="610" y="14" width="3" height="1" fill="#a8a8a8"/>
<rect x="610" y="16" width="3" height="1" fill="#a8a8a8"/>
<rect x="610" y="18" width="3" height="1" fill="#a8a8a8"/>
<rect x="616" y="0" width="1" height="19" fill="#a0a0a0"/>
<rect x="617" y="0" width="24" height="19" fill="url(#chk)"/>
<polygon points="624,2 624,13 626.5,11 628.5,16 630,15.3 628,10.3 631.5,10" fill="#4a4a4a" shape-rendering="geometricPrecision"/>
<rect x="656" y="2" width="1" height="7" fill="#444"/>
<rect x="656" y="10" width="1" height="7" fill="#444"/>
<rect x="649" y="9" width="7" height="1" fill="#444"/>
<rect x="657" y="9" width="7" height="1" fill="#444"/>
<rect x="673" y="0" width="1" height="19" fill="#a0a0a0"/>
<rect x="690" y="3" width="1" height="13" fill="#444"/>
<rect x="713" y="9" width="12" height="1" fill="#444"/>
<g shape-rendering="geometricPrecision">
<line x1="741" y1="16" x2="753" y2="4" stroke="#444" stroke-width="1"/>
<line x1="767" y1="11.5" x2="775" y2="3.5" stroke="#444" stroke-width="1"/>
<line x1="770.5" y1="16" x2="781" y2="5.5" stroke="#444" stroke-width="1"/>
<path d="M768.5,13.5 L771,13 L770,10.5 L773,10.5 L772,8 L775,8 L774,5.5 L777,5.5 L776.5,3" fill="none" stroke="#444" stroke-width="1"/>
<line x1="779" y1="1" x2="779" y2="8" stroke="#444" stroke-width="1"/>
<text x="777.5" y="18" font-size="7" font-weight="bold" fill="#444">E</text>
</g>
<rect x="796" y="2" width="1" height="1" fill="#555"/>
<rect x="798" y="2" width="1" height="1" fill="#555"/>
<rect x="800" y="2" width="1" height="1" fill="#555"/>
<rect x="802" y="2" width="1" height="1" fill="#555"/>
<rect x="804" y="2" width="1" height="1" fill="#555"/>
<rect x="806" y="2" width="1" height="1" fill="#555"/>
<rect x="808" y="2" width="1" height="1" fill="#555"/>
<rect x="796" y="5" width="1" height="1" fill="#555"/>
<rect x="798" y="5" width="1" height="1" fill="#555"/>
<rect x="800" y="5" width="1" height="1" fill="#555"/>
<rect x="802" y="5" width="1" height="1" fill="#555"/>
<rect x="804" y="5" width="1" height="1" fill="#555"/>
<rect x="806" y="5" width="1" height="1" fill="#555"/>
<rect x="808" y="5" width="1" height="1" fill="#555"/>
<rect x="796" y="9" width="1" height="1" fill="#555"/>
<rect x="798" y="9" width="1" height="1" fill="#555"/>
<rect x="800" y="9" width="1" height="1" fill="#555"/>
<rect x="802" y="9" width="1" height="1" fill="#555"/>
<rect x="804" y="9" width="1" height="1" fill="#555"/>
<rect x="806" y="9" width="1" height="1" fill="#555"/>
<rect x="808" y="9" width="1" height="1" fill="#555"/>
<rect x="796" y="13" width="1" height="1" fill="#555"/>
<rect x="798" y="13" width="1" height="1" fill="#555"/>
<rect x="800" y="13" width="1" height="1" fill="#555"/>
<rect x="802" y="13" width="1" height="1" fill="#555"/>
<rect x="804" y="13" width="1" height="1" fill="#555"/>
<rect x="806" y="13" width="1" height="1" fill="#555"/>
<rect x="808" y="13" width="1" height="1" fill="#555"/>
<text x="805.5" y="18" font-size="7" font-weight="bold" fill="#444" shape-rendering="geometricPrecision">F</text>
<text x="826.6" y="14" font-size="12.5" fill="#444" stroke="#444" stroke-width="0.4" shape-rendering="geometricPrecision">A</text>
<rect x="853" y="3" width="1" height="1" fill="#555"/>
<rect x="853" y="15" width="1" height="1" fill="#555"/>
<rect x="853" y="3" width="1" height="1" fill="#555"/>
<rect x="865" y="3" width="1" height="1" fill="#555"/>
<rect x="855" y="3" width="1" height="1" fill="#555"/>
<rect x="855" y="15" width="1" height="1" fill="#555"/>
<rect x="853" y="5" width="1" height="1" fill="#555"/>
<rect x="865" y="5" width="1" height="1" fill="#555"/>
<rect x="857" y="3" width="1" height="1" fill="#555"/>
<rect x="857" y="15" width="1" height="1" fill="#555"/>
<rect x="853" y="7" width="1" height="1" fill="#555"/>
<rect x="865" y="7" width="1" height="1" fill="#555"/>
<rect x="859" y="3" width="1" height="1" fill="#555"/>
<rect x="859" y="15" width="1" height="1" fill="#555"/>
<rect x="853" y="9" width="1" height="1" fill="#555"/>
<rect x="865" y="9" width="1" height="1" fill="#555"/>
<rect x="861" y="3" width="1" height="1" fill="#555"/>
<rect x="861" y="15" width="1" height="1" fill="#555"/>
<rect x="853" y="11" width="1" height="1" fill="#555"/>
<rect x="865" y="11" width="1" height="1" fill="#555"/>
<rect x="863" y="3" width="1" height="1" fill="#555"/>
<rect x="863" y="15" width="1" height="1" fill="#555"/>
<rect x="853" y="13" width="1" height="1" fill="#555"/>
<rect x="865" y="13" width="1" height="1" fill="#555"/>
<rect x="865" y="3" width="1" height="1" fill="#555"/>
<rect x="865" y="15" width="1" height="1" fill="#555"/>
<rect x="853" y="15" width="1" height="1" fill="#555"/>
<rect x="865" y="15" width="1" height="1" fill="#555"/>
<rect x="855" y="6" width="8" height="1.6" fill="#555"/>
<rect x="858.2" y="6" width="1.6" height="8" fill="#555"/>
<g shape-rendering="geometricPrecision">
<polygon points="880,6 883.5,3 887,6 883.5,8" fill="#555"/>
<polygon points="887,12.5 890.5,10 894,12.5 890.5,16" fill="#555"/>
<path d="M882,9.5 L884.5,12 L889,7" fill="none" stroke="#555" stroke-width="1.2"/>
</g>
<polygon points="901,8 906,8 903.5,11" fill="#000"/>
<rect x="912" y="0" width="1" height="21" fill="#a0a0a0"/>
<rect x="916" y="2" width="3" height="1" fill="#a8a8a8"/>
<rect x="916" y="4" width="3" height="1" fill="#a8a8a8"/>
<rect x="916" y="6" width="3" height="1" fill="#a8a8a8"/>
<rect x="916" y="8" width="3" height="1" fill="#a8a8a8"/>
<rect x="916" y="10" width="3" height="1" fill="#a8a8a8"/>
<rect x="916" y="12" width="3" height="1" fill="#a8a8a8"/>
<rect x="916" y="14" width="3" height="1" fill="#a8a8a8"/>
<rect x="916" y="16" width="3" height="1" fill="#a8a8a8"/>
<rect x="916" y="18" width="3" height="1" fill="#a8a8a8"/>
<rect x="1063" y="0" width="24" height="19" fill="url(#chk)"/>
<rect x="1062" y="0" width="1" height="19" fill="#a0a0a0"/>
<text x="926.9" y="13" font-size="9.6" fill="#3c3c3c">M1</text>
<text x="954.9" y="13" font-size="9.6" fill="#3c3c3c">M5</text>
<text x="980.9" y="13" font-size="9.6" fill="#3c3c3c">M15</text>
<text x="1008.9" y="13" font-size="9.6" fill="#3c3c3c">M30</text>
<text x="1039.9" y="13" font-size="9.6" fill="#3c3c3c">H1</text>
<text x="1066.9" y="13" font-size="9.6" fill="#3c3c3c">H4</text>
<text x="1095.9" y="13" font-size="9.6" fill="#3c3c3c">D1</text>
<text x="1123.4" y="13" font-size="9.6" fill="#3c3c3c">W1</text>
<text x="1149.9" y="13" font-size="9.6" fill="#3c3c3c">MN</text>
<rect x="1173" y="0" width="1" height="21" fill="#a0a0a0"/>
<g shape-rendering="geometricPrecision">
<circle cx="1643.6" cy="6.3" r="3.6" fill="#fff" stroke="#2a64d0" stroke-width="1.6"/>
<line x1="1641" y1="9" x2="1636.3" y2="13.6" stroke="#2a5cc8" stroke-width="2.4" stroke-linecap="round"/>
<path d="M1662,14 a6.5,4.6 0 1 1 4,1.6 l-2.5,2 z" fill="#e4e6ec" stroke="#a8a8a8" stroke-width="0.9"/>
<circle cx="1674.5" cy="6.3" r="8.2" fill="url(#gbadge)"/>
<text x="1674.5" y="10.6" font-size="11.5" fill="#fff" text-anchor="middle" style="font-family:'Liberation Serif', serif">1</text>
</g>
</svg>
</body></html>
